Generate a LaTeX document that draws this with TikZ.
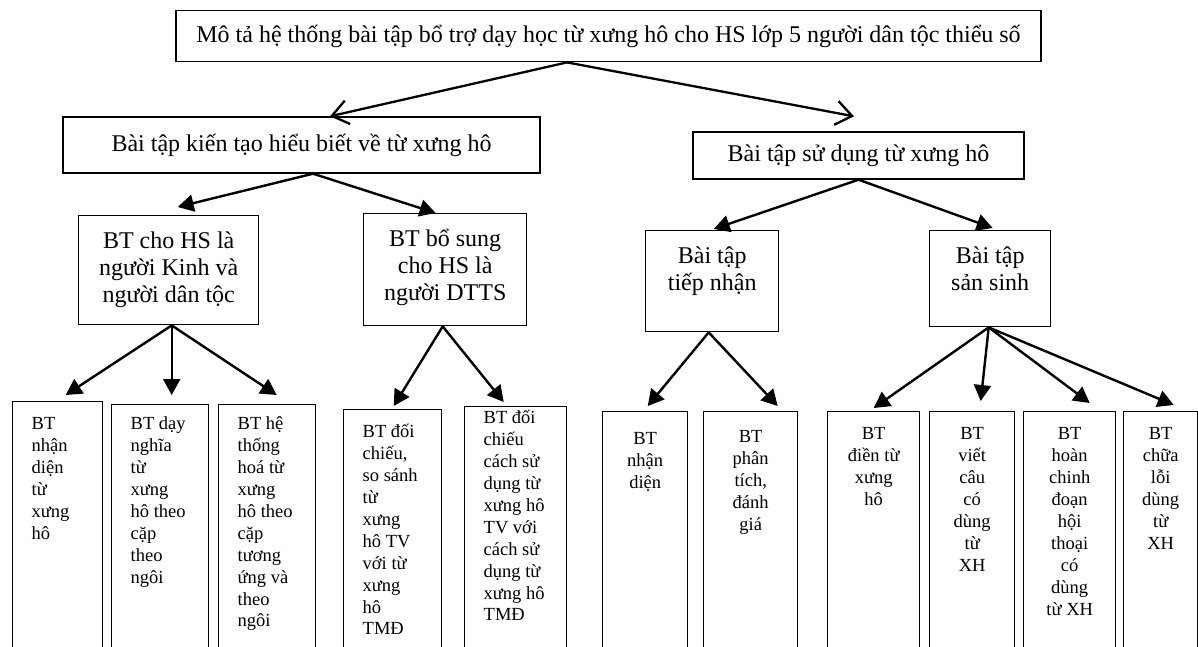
\documentclass[tikz,border=0pt]{standalone}
\usepackage{fontspec}
\setmainfont{Liberation Serif}
\usetikzlibrary{arrows.meta}

\newcommand{\bigfont}{\fontsize{24}{27}\selectfont}
\newcommand{\smallfont}{\fontsize{18.5}{21.9}\selectfont}
\newcommand{\midtext}[4]{\parbox[t][#2][t]{#1}{\bigfont\centering\vspace*{#3}\strut #4}}
\newcommand{\lefttext}[3]{\parbox[t][260pt][t]{#1}{\smallfont\raggedright\leftskip=19pt\vspace*{#2}\strut #3}}
\newcommand{\ctrtext}[3]{\parbox[t][260pt][t]{#1}{\smallfont\centering\vspace*{#2}\strut #3}}

\begin{document}
\begin{tikzpicture}[x=1pt, y=-1pt,
    box/.style = {draw, line width=1.4pt, inner sep=0pt},
    cell/.style = {box, anchor=north west},
    openarr/.style = {-{Straight Barb[length=16pt,width=24pt]}, line width=2.3pt},
    arr/.style = {-{Triangle[length=16pt,width=17pt]}, line width=2.4pt}]
    \useasboundingbox (0,0) rectangle (1198,646);
    \clip (0,0) rectangle (1198,646);

    \node (top) [box, minimum width=865pt, minimum height=51pt, font=\bigfont] at (608.5,36.2)
{Mô tả hệ thống bài tập bổ trợ dạy học từ xưng hô cho HS lớp 5 người dân tộc thiểu số};
    \node (kt) [box, minimum width=477pt, minimum height=56pt, font=\bigfont] at (301.5,145)
{Bài tập kiến tạo hiểu biết về từ xưng hô};
    \node (sd) [box, minimum width=331pt, minimum height=47pt, font=\bigfont] at (858.5,155.5)
{Bài tập sử dụng từ xưng hô};

    \node (kinh) [cell] at (78,215) {\midtext{180pt}{109pt}{14pt}{BT cho HS là\\người Kinh và\\người dân tộc}};
    \node (dtts) [cell] at (363,213) {\midtext{163pt}{112pt}{14pt}{BT bổ sung\\cho HS là\\người DTTS}};
    \node (tiepnhan) [cell] at (645,230) {\midtext{133pt}{101pt}{14pt}{Bài tập\\tiếp nhận}};
    \node (sansinh) [cell] at (929,230) {\midtext{121pt}{96pt}{14pt}{Bài tập\\sản sinh}};

    \node (nhandien) [cell] at (12,401) {\lefttext{90pt}{12.8pt}{BT\\nhận\\diện\\từ\\xưng\\hô}};
    \node (daynghia) [cell] at (111,404) {\lefttext{97pt}{9.8pt}{BT dạy\\nghĩa\\từ\\xưng\\hô theo\\cặp\\theo\\ngôi}};
    \node (hethong) [cell] at (218,404) {\lefttext{97pt}{9.8pt}{BT hệ\\thống\\hoá từ\\xưng\\hô theo\\cặp\\tương\\ứng và\\theo\\ngôi}};
    \node (sosanh) [cell] at (343,409) {\lefttext{98pt}{12.8pt}{BT đối\\chiếu,\\so sánh\\từ\\xưng\\hô TV\\với từ\\xưng\\hô\\TMĐ}};
    \node (cachsd) [cell] at (464,406) {\lefttext{102pt}{1.8pt}{BT đối\\chiếu\\cách sử\\dụng từ\\xưng hô\\TV với\\cách sử\\dụng từ\\xưng hô\\TMĐ}};
    \node (tnnhan) [cell] at (602,411) {\ctrtext{85pt}{17.8pt}{BT\\nhận\\diện}};
    \node (phantich) [cell] at (703,411) {\ctrtext{94pt}{15.8pt}{BT\\phân\\tích,\\đánh\\giá}};
    \node (dientu) [cell] at (827,411) {\ctrtext{92pt}{12.8pt}{BT\\điền từ\\xưng\\hô}};
    \node (vietcau) [cell] at (929,411) {\ctrtext{85pt}{12.8pt}{BT\\viết\\câu\\có\\dùng\\từ\\XH}};
    \node (hoithoai) [cell] at (1023,411) {\ctrtext{92pt}{12.8pt}{BT\\hoàn\\chinh\\đoạn\\hội\\thoại\\có\\dùng\\từ XH}};
    \node (chualoi) [cell] at (1123,411) {\ctrtext{74pt}{12.8pt}{BT\\chữa\\lỗi\\dùng\\từ\\XH}};

    \draw[openarr] ([xshift=-41.5pt]top.south) -- ([xshift=28.5pt]kt.north);
    \draw[openarr] ([xshift=-41.5pt]top.south) -- ([xshift=-4.5pt,yshift=15pt]sd.north);

    \draw[arr] ([xshift=11.5pt]kt.south) -- ([xshift=9pt,yshift=8pt]kinh.north);
    \draw[arr] ([xshift=11.5pt]kt.south) -- ([xshift=-9.5pt]dtts.north);
    \draw[arr] (sd.south) -- ([xshift=1.5pt,yshift=1pt]tiepnhan.north);
    \draw[arr] (sd.south) -- ([xshift=2.5pt,yshift=2pt]sansinh.north);

    \draw[arr] ([xshift=3pt]kinh.south) -- ([xshift=8pt,yshift=6pt]nhandien.north);
    \draw[arr] ([xshift=3pt]kinh.south) -- ([xshift=11.5pt,yshift=9pt]daynghia.north);
    \draw[arr] ([xshift=3pt]kinh.south) -- ([xshift=9.5pt,yshift=9pt]hethong.north);
    \draw[arr] ([xshift=-2.5pt]dtts.south) -- ([xshift=1pt,yshift=3pt]sosanh.north);
    \draw[arr] ([xshift=-2.5pt]dtts.south) -- ([xshift=-12pt,yshift=4pt]cachsd.north);
    \draw[arr] ([xshift=-3.5pt]tiepnhan.south) -- ([xshift=2.5pt,yshift=5pt]tnnhan.north);
    \draw[arr] ([xshift=-3.5pt]tiepnhan.south) -- ([xshift=27pt,yshift=5pt]phantich.north);
    \draw[arr] ([xshift=-1.5pt]sansinh.south) -- ([yshift=3pt]dientu.north);
    \draw[arr] ([xshift=-1.5pt]sansinh.south) -- ([xshift=8.5pt,yshift=10pt]vietcau.north);
    \draw[arr] ([xshift=-1.5pt]sansinh.south) -- ([xshift=20pt,yshift=8pt]hoithoai.north);
    \draw[arr] ([xshift=-1.5pt]sansinh.south) -- ([xshift=13pt,yshift=6pt]chualoi.north);
\end{tikzpicture}
\end{document}
